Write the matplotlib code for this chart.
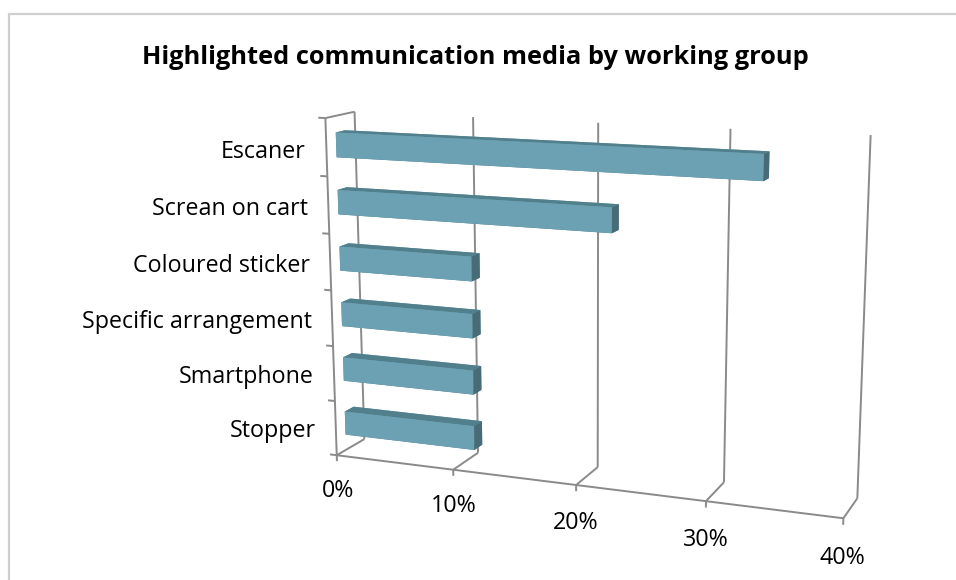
import numpy as np
import matplotlib
matplotlib.use("Agg")
import matplotlib.pyplot as plt
from matplotlib.patches import Rectangle
from mpl_toolkits.mplot3d import proj3d

# ---- data -------------------------------------------------------------
categories = ["Stopper", "Smartphone", "Specific arrangement",
              "Coloured sticker", "Screan on cart", "Escaner"]
shares = [0.111, 0.111, 0.111, 0.111, 0.222, 0.333]
tick_values = [0.0, 0.1, 0.2, 0.3, 0.4]
tick_labels = ["0%", "10%", "20%", "30%", "40%"]
title = "Highlighted communication media by working group"

# ---- figure -----------------------------------------------------------
W, H, DPI = 956, 580, 100
fig = plt.figure(figsize=(W / DPI, H / DPI), dpi=DPI)
fig.patch.set_facecolor("white")

# chart-area frame
fig.add_artist(Rectangle((9 / W, -0.1), 1.2, (H - 14) / H + 0.1,
                         transform=fig.transFigure, fill=False,
                         edgecolor="#CFCFCF", linewidth=1.6))

title_txt = fig.text(475 / W, 1 - 58 / H, title, ha="center", va="center",
                     fontsize=20, fontweight="bold", family="Open Sans",
                     color="black")

side = 600
ax = fig.add_axes([250 / W, 0.0, side / W, side / H], projection="3d",
                  computed_zorder=False)
ax.set_proj_type("persp", focal_length=0.5)
ax.view_init(elev=12.8, azim=-69)
ax.set_box_aspect((0.975, 0.11, 0.64))
xmax = tick_values[-1]
n = len(categories)
depth = 1.0
ax.set_xlim(0, xmax)
ax.set_ylim(0, depth)
ax.set_zlim(0, n)
ax.set_axis_off()

grid_kw = dict(color="#8A8A8A", linewidth=1.4, solid_capstyle="butt")

# floor depth lines and back-wall gridlines
for v in tick_values:
    ax.plot([v, v], [0, depth], [0, 0], zorder=1, **grid_kw)
    ax.plot([v, v], [depth, depth], [0, n], zorder=1, **grid_kw)
# side wall top edge
ax.plot([0, 0], [0, depth], [n, n], zorder=1, **grid_kw)

# bars
bar_h = 0.43
bar_y0, bar_dy = 0.33, 0.32
xs = np.zeros(n)
ys = np.full(n, bar_y0)
zs = np.arange(n) + 0.5 - bar_h / 2
face_cols = ["#4E7A86", "#527F8C", "#6BA1B3", "#6BA1B3", "#5E8E9E", "#476C77"]
bars = ax.bar3d(xs, ys, zs, shares, np.full(n, bar_dy), np.full(n, bar_h),
                color=face_cols * n, shade=False, linewidth=0)
bars.set_zorder(2)

# front axis lines and ticks
ax.plot([0, 0], [0, 0], [0, n], zorder=3, **grid_kw)
ax.plot([0, xmax], [0, 0], [0, 0], zorder=3, **grid_kw)
for k in range(n + 1):
    ax.plot([-0.006, 0], [0, 0], [k, k], zorder=3, **grid_kw)
for v in tick_values:
    ax.plot([v, v], [0, 0], [0, -0.11], zorder=3, **grid_kw)

# axis labels: anchor points projected from 3D to the 2D view plane
M = ax.get_proj()
label_fs = 15.5
cat_z = np.arange(n) + 0.4
cpx, cpy, _ = proj3d.proj_transform(np.full(n, -0.018), np.zeros(n), cat_z, M)
cat_texts = [ax.text2D(px, py, c, transform=ax.transData, ha="right",
                       va="center", fontsize=label_fs, family="Open Sans",
                       color="black")
             for px, py, c in zip(cpx, cpy, categories)]
nv = len(tick_values)
vpx, vpy, _ = proj3d.proj_transform(np.array(tick_values), np.zeros(nv),
                                    np.full(nv, -0.67), M)
val_texts = [ax.text2D(px, py, t, transform=ax.transData, ha="center",
                       va="center", fontsize=label_fs, family="Open Sans",
                       color="black")
             for px, py, t in zip(vpx, vpy, tick_labels)]

# ---- text sizes and placement of the projected box ---------------------
fig.canvas.draw()
renderer = fig.canvas.get_renderer()
w_title = title_txt.get_window_extent(renderer).width
title_txt.set_fontsize(title_txt.get_fontsize() * 665 / w_title)
w_ref = cat_texts[2].get_window_extent(renderer).width
new_fs = label_fs * 231 / w_ref
for t in cat_texts + val_texts:
    t.set_fontsize(new_fs)

cx, cy, cz = np.meshgrid([0, xmax], [0, depth], [0, n])
px, py, _ = proj3d.proj_transform(cx.ravel(), cy.ravel(), cz.ravel(), M)
disp = ax.transData.transform(np.column_stack([px, py]))
dx0, dx1 = disp[:, 0].min(), disp[:, 0].max()
dy0, dy1 = disp[:, 1].min(), disp[:, 1].max()
left, right, top, bottom = 325, 871, H - 112, H - 518
s = 0.5 * ((right - left) / (dx1 - dx0) + (top - bottom) / (dy1 - dy0))
pos = ax.get_position()
ox, oy, size = pos.x0 * W, pos.y0 * H, pos.width * W
tcx, tcy = (left + right) / 2, (top + bottom) / 2
pcx, pcy = (dx0 + dx1) / 2, (dy0 + dy1) / 2
nox = tcx - s * (pcx - ox)
noy = tcy - s * (pcy - oy)
nsize = s * size
ax.set_position([nox / W, noy / H, nsize / W, nsize / H])

fig.savefig("out.png", dpi=DPI, facecolor="white")
